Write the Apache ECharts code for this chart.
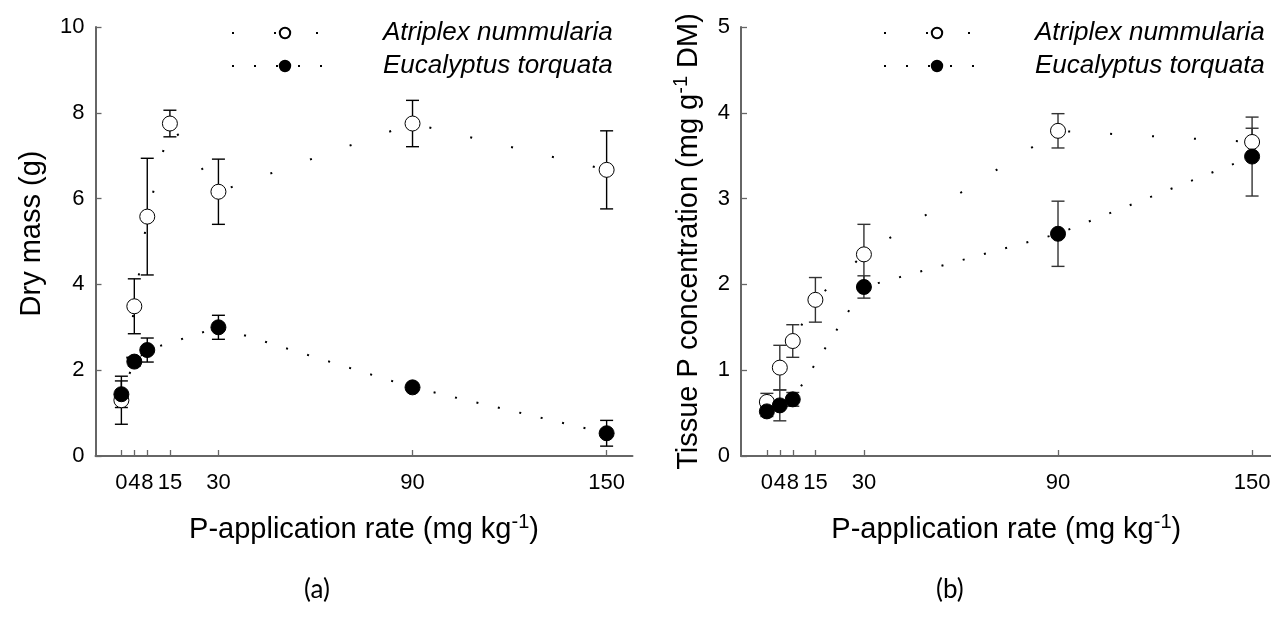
<!DOCTYPE html>
<html>
<head>
<meta charset="utf-8">
<script src="https://cdn.jsdelivr.net/npm/echarts@6/dist/echarts.min.js"></script>
<style>
html,body{margin:0;padding:0;background:#fff;}
#chart{width:1271px;height:617px;}
</style>
</head>
<body>
<div id="chart"></div>
<script>
// ---- data ----
const rateTicks = [0, 4, 8, 15, 30, 90, 150];
const atriplexRates = [0, 4, 8, 15, 30, 90, 150];
const eucalyptusRates = [0, 4, 8, 30, 90, 150];

// panel (a) Dry mass (g)
const atriplexMass   = [1.30, 3.49, 5.58, 7.75, 6.16, 7.75, 6.67];
const atriplexMassSE = [0.56, 0.64, 1.36, 0.31, 0.76, 0.54, 0.91];
const eucalyptusMass   = [1.44, 2.20, 2.47, 3.00, 1.60, 0.53];
const eucalyptusMassSE = [0.31, 0.10, 0.28, 0.28, 0.05, 0.30];

// panel (b) Tissue P concentration (mg g-1 DM)
const atriplexP   = [0.63, 1.03, 1.34, 1.82, 2.35, 3.79, 3.66];
const atriplexPSE = [0.10, 0.26, 0.19, 0.26, 0.35, 0.20, 0.16];
const eucalyptusP   = [0.52, 0.59, 0.66, 1.97, 2.59, 3.49];
const eucalyptusPSE = [0.06, 0.18, 0.08, 0.13, 0.38, 0.46];

const seriesNames = ['Atriplex nummularia', 'Eucalyptus torquata'];

// ---- helpers ----
const FONT = "'Liberation Sans', Arial, sans-serif";
const pairs = (xs, ys) => xs.map((x, i) => [x, ys[i]]);
const errs = (xs, ys, se) => xs.map((x, i) => [x, ys[i] - se[i], ys[i] + se[i]]);

function errRenderer(color, lw) {
  return function (params, api) {
    const x = api.value(0), lo = api.value(1), hi = api.value(2);
    const a = api.coord([x, lo]), b = api.coord([x, hi]);
    const w = 6.5;
    const st = { stroke: color, lineWidth: lw };
    return {
      type: 'group',
      children: [
        { type: 'line', shape: { x1: a[0], y1: a[1], x2: b[0], y2: b[1] }, style: st },
        { type: 'line', shape: { x1: b[0] - w, y1: b[1], x2: b[0] + w, y2: b[1] }, style: st },
        { type: 'line', shape: { x1: a[0] - w, y1: a[1], x2: a[0] + w, y2: a[1] }, style: st }
      ]
    };
  };
}

const axisColor = '#666';
function titleStyle(pad) {
  return { fontFamily: FONT, fontSize: 29, color: '#000', lineHeight: 36, padding: pad || 0,
    rich: { sup: { fontFamily: FONT, fontSize: 20, color: '#000', lineHeight: 16, verticalAlign: 'top' } } };
}

function xAxis(gi) {
  return {
    type: 'value', gridIndex: gi, min: -8, max: gi === 0 ? 158 : 156,
    name: 'P-application rate (mg kg{sup|-1})',
    nameLocation: 'middle', nameGap: 56,
    nameTextStyle: titleStyle(),
    axisLine: { show: true, onZero: false, lineStyle: { color: axisColor, width: 2 } },
    axisTick: { show: true, inside: true, length: 6, customValues: rateTicks, lineStyle: { color: axisColor, width: 1.3 } },
    axisLabel: { show: true, customValues: rateTicks, margin: 16, fontFamily: FONT, fontSize: 22, color: '#000',
      formatter: v => String(v) },
    splitLine: { show: false }
  };
}
function yAxis(gi, max, interval, name, gap, pad) {
  return {
    type: 'value', gridIndex: gi, min: 0, max: max, interval: interval,
    name: name, nameLocation: 'middle', nameGap: gap, nameRotate: 90,
    nameTextStyle: titleStyle(pad),
    axisLine: { show: true, onZero: false, lineStyle: { color: axisColor, width: 2 } },
    axisTick: { show: true, inside: true, length: 6, lineStyle: { color: axisColor, width: 1.3 } },
    axisLabel: { show: true, margin: 11, fontFamily: FONT, fontSize: 22, color: '#000' },
    splitLine: { show: false }
  };
}

function lineSeries(name, gi, data, filled, dash) {
  return {
    type: 'line', name: name, xAxisIndex: gi, yAxisIndex: gi, data: data,
    symbol: 'circle', symbolSize: 15, showAllSymbol: true, z: 5,
    itemStyle: filled ? { color: '#000', borderColor: '#000', borderWidth: 1 }
                      : { color: '#fff', borderColor: '#000', borderWidth: 1 },
    lineStyle: { color: '#000', width: 2, type: dash, cap: 'butt' },
    emphasis: { disabled: true },
    animation: false
  };
}
function errSeries(name, gi, data, color) {
  return {
    type: 'custom', name: name + ' err', xAxisIndex: gi, yAxisIndex: gi, data: data,
    encode: { x: 0, y: [1, 2] }, z: 3,
    renderItem: errRenderer(color, 1.4), animation: false, silent: true
  };
}

function legend(left) {
  return {
    data: seriesNames, orient: 'vertical', left: left, top: 15,
    itemWidth: 106, itemHeight: 13, itemGap: 7, selectedMode: false,
    textStyle: { fontFamily: FONT, fontSize: 26, fontStyle: 'italic', color: '#000', lineHeight: 26, padding: [0, 0, 0, 40] }
  };
}

const option = {
  backgroundColor: '#fff',
  animation: false,
  grid: [
    { left: 95.5, top: 27, width: 537, height: 429, outerBoundsMode: 'none', containLabel: false },
    { left: 741, top: 27, width: 530.5, height: 429, outerBoundsMode: 'none', containLabel: false }
  ],
  xAxis: [xAxis(0), xAxis(1)],
  yAxis: [
    yAxis(0, 10, 2, 'Dry mass (g)', 46, [0, 0, 0, 16]),
    yAxis(1, 5, 1, 'Tissue P concentration (mg g{sup|-1} DM)', 34)
  ],
  legend: [legend(226), legend(878)],
  series: [
    errSeries(seriesNames[0], 0, errs(atriplexRates, atriplexMass, atriplexMassSE), '#000'),
    errSeries(seriesNames[1], 0, errs(eucalyptusRates, eucalyptusMass, eucalyptusMassSE), '#000'),
    lineSeries(seriesNames[0], 0, pairs(atriplexRates, atriplexMass), false, [2, 40]),
    lineSeries(seriesNames[1], 0, pairs(eucalyptusRates, eucalyptusMass), true, [2, 20]),
    errSeries(seriesNames[0], 1, errs(atriplexRates, atriplexP, atriplexPSE), '#333'),
    errSeries(seriesNames[1], 1, errs(eucalyptusRates, eucalyptusP, eucalyptusPSE), '#333'),
    lineSeries(seriesNames[0], 1, pairs(atriplexRates, atriplexP), false, [2, 40]),
    lineSeries(seriesNames[1], 1, pairs(eucalyptusRates, eucalyptusP), true, [2, 20])
  ],
  graphic: [
    { type: 'text', left: 304, top: 577, style: { text: '(a)', fontFamily: 'Lato, "Open Sans", sans-serif', fontSize: 26, fill: '#000' } },
    { type: 'text', left: 936, top: 577, style: { text: '(b)', fontFamily: 'Lato, "Open Sans", sans-serif', fontSize: 26, fill: '#000' } }
  ]
};

const chart = echarts.init(document.getElementById('chart'), null, { renderer: 'canvas' });
chart.setOption(option);
</script>
</body>
</html>
